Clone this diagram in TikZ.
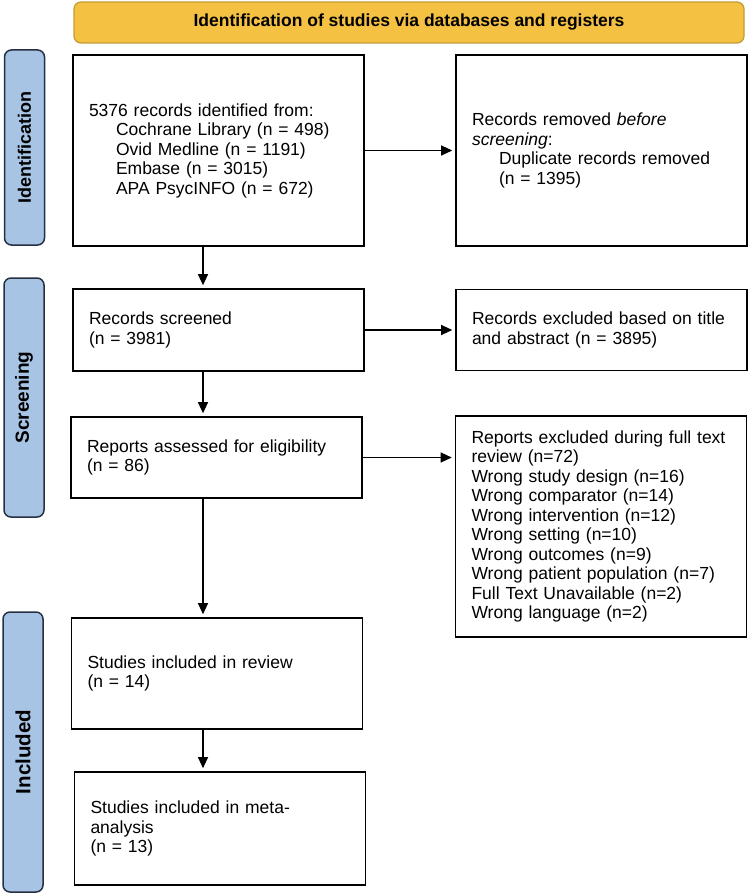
\documentclass[tikz,border=0pt]{standalone}
\usepackage{fontspec}
\setmainfont{Liberation Sans}
\usetikzlibrary{arrows.meta,positioning}
\definecolor{bannerfill}{RGB}{245,193,67}
\definecolor{bannerdraw}{RGB}{196,156,56}
\definecolor{phasefill}{RGB}{167,196,228}
\definecolor{phasedraw}{RGB}{38,48,66}
\newcommand{\boxfont}{\fontsize{17.5pt}{19.5pt}\selectfont}
\newcommand{\ind}{\hspace*{27pt}}
\tikzset{
    block/.style = {draw, rectangle, line width=1.6pt,
        text width=259pt, inner xsep=16pt, align=left, font=\boxfont},
    banner/.style = {draw=bannerdraw, fill=bannerfill, rounded corners=7pt,
        line width=1.3pt, minimum width=670pt, minimum height=41pt,
        font=\boxfont\bfseries},
    phase/.style = {draw=phasedraw, fill=phasefill, rounded corners=7pt,
        line width=1.5pt, rotate=90, minimum height=40pt,
        font=\fontsize{#1}{20pt}\selectfont\bfseries},
    arrow/.style = {draw, ->, line width=1.1pt, shorten >=3pt}
}

\begin{document}
\begin{tikzpicture}[x=1pt, y=-1pt, node distance=383pt, >={Triangle[length=11pt, width=10pt]}]
    \useasboundingbox (0,0) rectangle (750,896);
    \node [banner] (title) at (409,22.5) {Identification of studies via databases and registers};
    \node [phase=18pt, minimum width=195pt] (idphase) at (24.5,147.5) {Identification};
    \node [phase=19pt, minimum width=239pt] (scphase) at (24,397.5) {Screening};
    \node [phase=20.5pt, minimum width=280pt] (inphase) at (23,752) {Included};
    \coordinate (col) at (203,0);

    \node [block, minimum height=191pt] (found) at (218.5,150.5) {5376 records identified from:\\
        \ind Cochrane Library (n = 498)\\ \ind Ovid Medline (n = 1191)\\
        \ind Embase (n = 3015)\\ \ind APA PsycINFO (n = 672)};
    \node [block, right of=found, minimum height=191pt] (dupl) {Records removed \textit{before}\\
        \textit{screening}:\\ \ind Duplicate records removed\\ \ind(n = 1395)};
    \draw [arrow] (found) -- (dupl);

    \node [block, minimum height=82pt] (screened) at (218.5,330) {Records screened\\ (n = 3981)};
    \node [block, right of=screened, minimum height=81pt] (titleexcl) {Records excluded based on title\\ and abstract (n = 3895)};
    \draw [arrow] (found.south -| col) -- (screened.north -| col);
    \draw [arrow] (screened) -- (titleexcl);

    \node [block, minimum height=81pt] (assessed) at (216.5,457.5) {Reports assessed for eligibility\\ (n = 86)};
    \node [block, minimum height=221pt] (textexcl) at (601,526.5) {Reports excluded during full text\\
        review (n=72)\\ Wrong study design (n=16)\\ Wrong comparator (n=14)\\
        Wrong intervention (n=12)\\ Wrong setting (n=10)\\ Wrong outcomes (n=9)\\
        Wrong patient population (n=7)\\ Full Text Unavailable (n=2)\\ Wrong language (n=2)};
    \draw [arrow] (screened.south -| col) -- (assessed.north -| col);
    \draw [arrow] (assessed.east) -- (assessed.east -| textexcl.west);

    \node [block, minimum height=111pt] (review) at (217,673.5) {Studies included in review\\ (n = 14)};
    \node [block, minimum height=113pt] (meta) at (220,828.5) {Studies included in meta-\\ analysis\\ (n = 13)};
    \draw [arrow] (assessed.south -| col) -- (review.north -| col);
    \draw [arrow] (review.south -| col) -- (meta.north -| col);
\end{tikzpicture}
\end{document}
